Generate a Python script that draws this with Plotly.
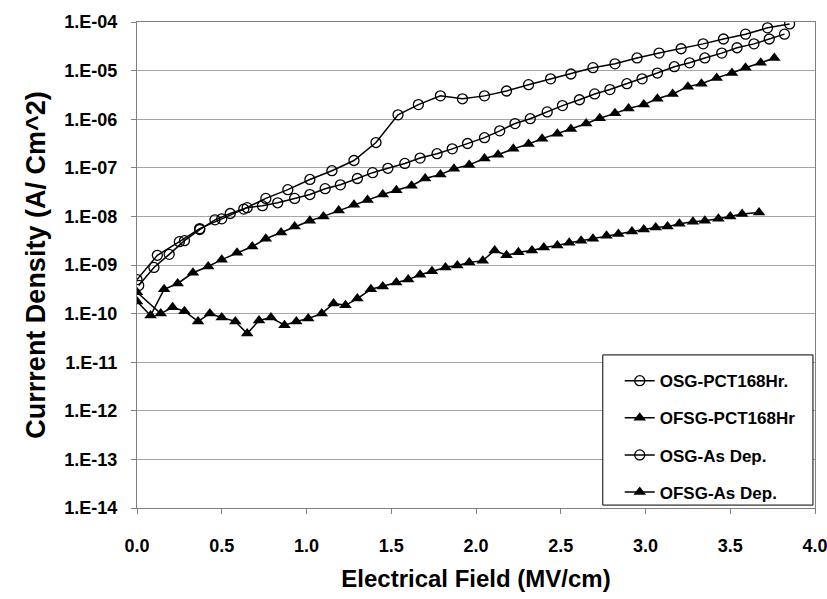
import plotly.graph_objects as go

# Electrical field (MV/cm) and log10 of current density (A/cm^2)
osg_pct_x = [0.0, 0.12, 0.25, 0.37, 0.50, 0.63, 0.76, 0.89, 1.02, 1.15, 1.28, 1.41, 1.54, 1.66,
             1.79, 1.92, 2.05, 2.18, 2.31, 2.44, 2.56, 2.69, 2.82, 2.95, 3.08, 3.21, 3.34, 3.46,
             3.59, 3.72, 3.85]
osg_pct_log = [-9.30, -8.80, -8.52, -8.25, -8.05, -7.85, -7.63, -7.45, -7.24, -7.06, -6.85, -6.48,
               -5.91, -5.70, -5.52, -5.58, -5.52, -5.42, -5.29, -5.17, -5.07, -4.94, -4.86, -4.74,
               -4.64, -4.55, -4.45, -4.35, -4.25, -4.12, -4.04]

ofsg_pct_x = [0.0, 0.08, 0.16, 0.24, 0.33, 0.42, 0.50, 0.59, 0.68, 0.76, 0.85, 0.93, 1.02, 1.10,
              1.19, 1.28, 1.36, 1.45, 1.53, 1.62, 1.70, 1.79, 1.87, 1.96, 2.05, 2.13, 2.22, 2.31,
              2.39, 2.48, 2.56, 2.65, 2.73, 2.82, 2.90, 2.99, 3.07, 3.16, 3.25, 3.33, 3.42, 3.51,
              3.59, 3.68, 3.76]
ofsg_pct_log = [-9.75, -10.04, -9.50, -9.38, -9.16, -9.03, -8.89, -8.75, -8.62, -8.46, -8.33, -8.21,
                -8.09, -8.00, -7.88, -7.76, -7.66, -7.55, -7.46, -7.37, -7.22, -7.14, -7.02, -6.94,
                -6.81, -6.73, -6.61, -6.51, -6.40, -6.30, -6.20, -6.09, -5.98, -5.88, -5.78, -5.70,
                -5.58, -5.48, -5.33, -5.27, -5.15, -5.05, -4.94, -4.84, -4.74]

osg_dep_x = [0.01, 0.10, 0.19, 0.28, 0.37, 0.46, 0.55, 0.65, 0.74, 0.83, 0.93, 1.02, 1.11, 1.20,
             1.30, 1.39, 1.48, 1.58, 1.67, 1.77, 1.86, 1.95, 2.05, 2.14, 2.23, 2.32, 2.42, 2.51,
             2.61, 2.70, 2.79, 2.89, 2.98, 3.07, 3.17, 3.26, 3.35, 3.45, 3.54, 3.64, 3.73, 3.82]
osg_dep_log = [-9.42, -9.05, -8.78, -8.50, -8.27, -8.07, -7.94, -7.82, -7.78, -7.72, -7.63, -7.55,
               -7.43, -7.35, -7.22, -7.10, -7.01, -6.91, -6.80, -6.71, -6.61, -6.50, -6.38, -6.24,
               -6.09, -5.99, -5.85, -5.72, -5.60, -5.48, -5.39, -5.27, -5.17, -5.05, -4.92, -4.84,
               -4.74, -4.64, -4.53, -4.45, -4.35, -4.25]

ofsg_dep_x = [0.0, 0.14, 0.21, 0.28, 0.36, 0.43, 0.50, 0.58, 0.65, 0.72, 0.79, 0.87, 0.94, 1.01,
              1.09, 1.16, 1.23, 1.30, 1.38, 1.45, 1.53, 1.60, 1.67, 1.74, 1.82, 1.89, 1.96, 2.04,
              2.11, 2.18, 2.25, 2.33, 2.40, 2.48, 2.55, 2.62, 2.69, 2.77, 2.84, 2.92, 2.99, 3.06,
              3.13, 3.20, 3.28, 3.35, 3.43, 3.50, 3.57, 3.67]
ofsg_dep_log = [-9.56, -10.00, -9.87, -9.95, -10.16, -10.00, -10.08, -10.16, -10.41, -10.14, -10.08,
                -10.24, -10.16, -10.10, -10.00, -9.79, -9.83, -9.69, -9.50, -9.44, -9.36, -9.30,
                -9.20, -9.13, -9.05, -9.01, -8.95, -8.91, -8.70, -8.80, -8.74, -8.70, -8.64, -8.60,
                -8.54, -8.50, -8.46, -8.40, -8.36, -8.31, -8.27, -8.23, -8.21, -8.15, -8.11, -8.09,
                -8.05, -8.00, -7.95, -7.92]

series_names = ["OSG-PCT168Hr.", "OFSG-PCT168Hr", "OSG-As Dep.", "OFSG-As Dep."]
y_tick_vals = [1e-14, 1e-13, 1e-12, 1e-11, 1e-10, 1e-9, 1e-8, 1e-7, 1e-6, 1e-5, 1e-4]
y_tick_text = ["1.E-14", "1.E-13", "1.E-12", "1.E-11", "1.E-10", "1.E-09", "1.E-08",
               "1.E-07", "1.E-06", "1.E-05", "1.E-04"]
x_tick_vals = [0.0, 0.5, 1.0, 1.5, 2.0, 2.5, 3.0, 3.5, 4.0]
x_tick_text = ["0.0", "0.5", "1.0", "1.5", "2.0", "2.5", "3.0", "3.5", "4.0"]

FONT = "Liberation Sans, Arial, sans-serif"

circle = dict(symbol="circle-open", size=10, color="black", line=dict(width=1.3, color="black"))
tri = dict(symbol="triangle-up", size=11, color="black")

series = [
    (osg_pct_x, osg_pct_log, circle),
    (ofsg_pct_x, ofsg_pct_log, tri),
    (osg_dep_x, osg_dep_log, circle),
    (ofsg_dep_x, ofsg_dep_log, tri),
]

fig = go.Figure()
for name, (xs, logs, mk) in zip(series_names, series):
    fig.add_trace(go.Scatter(
        x=xs, y=[10 ** v for v in logs], mode="lines+markers", name="<b>" + name + "</b>",
        legendgroup=name,
        line=dict(color="black", width=1.5), marker=mk,
    ))

# legend frame
fig.add_shape(type="rect", xref="paper", yref="paper", x0=0.687, x1=0.997, y0=0.006, y1=0.315,
              line=dict(color="black", width=1), fillcolor="white", layer="above")

fig.update_layout(
    width=827, height=599,
    margin=dict(l=137, r=12, t=22, b=91, autoexpand=False),
    paper_bgcolor="white", plot_bgcolor="white",
    font=dict(family=FONT, color="black"),
    showlegend=True,
    legend=dict(
        x=0.712, y=0.298, xanchor="left", yanchor="top",
        bgcolor="rgba(0,0,0,0)", borderwidth=0,
        font=dict(family=FONT, size=17, color="black"),
        tracegroupgap=12, itemwidth=30,
    ),
)
fig.update_xaxes(
    range=[0, 4.0], tickvals=x_tick_vals, ticktext=["<b>" + t + "</b>" for t in x_tick_text],
    showgrid=False, showline=True, linecolor="#808080", linewidth=1, mirror=True,
    ticks="outside", ticklen=5, tickcolor="#808080", ticklabeloverflow="allow", automargin=False,
    tickfont=dict(family=FONT, size=18, color="black"), ticklabelstandoff=16,
    title=dict(text="<b>Electrical Field (MV/cm)</b>", font=dict(family=FONT, size=24, color="black"),
               standoff=15),
    zeroline=False,
)
fig.update_yaxes(
    type="log", range=[-14, -4], tickvals=y_tick_vals, ticktext=["<b>" + t + "</b>" for t in y_tick_text],
    showgrid=True, gridcolor="#a6a6a6", gridwidth=1,
    showline=True, linecolor="#808080", linewidth=1, mirror=True, automargin=False,
    ticks="outside", ticklen=5, tickcolor="#808080",
    tickfont=dict(family=FONT, size=18, color="black"), ticklabelstandoff=10,
    title=dict(text="<b>Currrent Density (A/ Cm^2)</b>", font=dict(family=FONT, size=27, color="black"),
               standoff=10),
    zeroline=False,
)

fig.write_html("out.html")
